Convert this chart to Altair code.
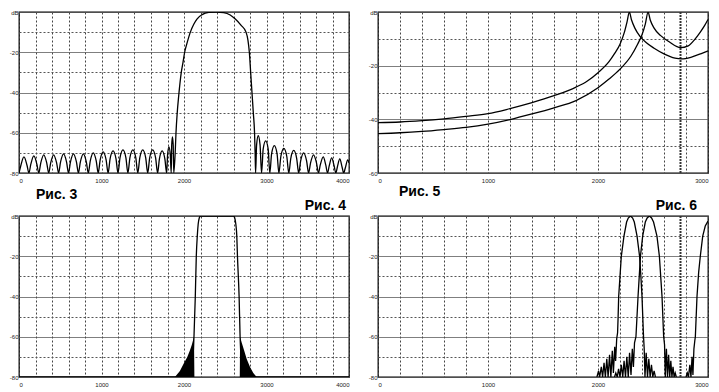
import altair as alt
import pandas as pd

FONT = "Liberation Sans"

# ---------------- Рис. 3 (0..4000 Hz, -80..0 dB) ----------------
fig3_left_lobes = [
    (0, -80), (24, -76), (60, -72), (96, -76),
    (120, -80), (144, -75.5), (180, -71.5), (216, -75.5),
    (240, -80), (264, -75), (300, -71), (336, -75),
    (360, -80), (384, -75), (420, -71), (456, -75),
    (480, -80), (504, -74.5), (540, -70.5), (576, -74.5),
    (600, -80), (624, -74.5), (660, -70.5), (696, -74.5),
    (720, -80), (744, -74.5), (780, -70.5), (816, -74.5),
    (840, -80), (864, -74), (900, -70), (936, -74),
    (960, -80), (984, -73.5), (1020, -69.5), (1056, -73.5),
    (1080, -80), (1104, -73), (1140, -69), (1176, -73),
    (1200, -80), (1224, -72.5), (1260, -68.5), (1296, -72.5),
    (1320, -80), (1344, -72.5), (1380, -68.5), (1416, -72.5),
    (1440, -80), (1464, -72.5), (1500, -68.5), (1536, -72.5),
    (1560, -80), (1584, -72.5), (1620, -68.5), (1656, -72.5),
    (1680, -80), (1702, -73), (1735, -69), (1768, -73),
    (1790, -80), (1801, -71), (1817, -67), (1834, -71),
    (1845, -80), (1851, -66), (1860, -62), (1869, -66),
]
fig3_main = [
    (1876, -80), (1893, -70), (1903, -60), (1918, -50), (1935, -42),
    (1967, -30), (1988, -25), (2008, -20), (2040, -15), (2077, -10),
    (2120, -6), (2157, -3.5), (2220, -1.3), (2300, -0.2), (2390, 0),
    (2480, -0.3), (2560, -1.5), (2622, -3.5), (2690, -6.5), (2752, -10),
    (2775, -14), (2792, -20), (2808, -30), (2824, -40), (2840, -50),
    (2855, -60), (2862, -70), (2868, -80),
]
fig3_right_lobes = [
    (2880, -66), (2900, -61.5), (2922, -66),
    (2940, -80), (2960, -68), (2990, -64), (3020, -68),
    (3040, -80), (3062, -70.4), (3095, -66.4), (3128, -70.4),
    (3150, -80), (3174, -71.8), (3210, -67.8), (3246, -71.8),
    (3270, -80), (3294, -72.8), (3330, -68.8), (3366, -72.8),
    (3390, -80), (3414, -74), (3450, -70), (3486, -74),
    (3510, -80), (3534, -75), (3570, -71), (3606, -75),
    (3630, -80), (3652, -76), (3688, -72), (3718, -76),
    (3740, -80), (3760, -76.5), (3790, -72.5), (3820, -76.5),
    (3840, -80), (3859, -77), (3888, -73), (3916, -77),
    (3935, -80), (3955, -77.5), (3985, -73.5), (4000, -75),
]

# ---------------- Рис. 4 (0..4000 Hz, -80..0 dB) ----------------
fig4_main = [
    (0, -80), (2100, -80), (2110, -70), (2121, -60), (2137, -40),
    (2149, -20), (2161, -10), (2172, -4), (2185, -1), (2200, 0),
    (2400, 0), (2600, 0), (2615, -1), (2628, -4), (2640, -10),
    (2648, -20), (2668, -40), (2680, -60), (2690, -70), (2700, -80),
    (4000, -80),
]
fig4_skirt_left = [
    (1890, -80), (1950, -77), (2000, -73), (2040, -70), (2070, -67),
    (2095, -64), (2121, -60), (2126, -80),
]
fig4_skirt_right = [
    (2676, -80), (2680, -60), (2700, -63), (2730, -67), (2760, -71),
    (2800, -75), (2840, -78), (2880, -80),
]

# ---------------- Рис. 5 (0..3000 Hz, -60..0 dB) ----------------
fig5_a = [
    (0, -41.2), (200, -41), (400, -40.5), (600, -39.8), (800, -38.9),
    (1000, -37.9), (1200, -36), (1400, -33.8), (1600, -31.2), (1800, -28),
    (1900, -25.8), (2000, -22.6), (2100, -18.5), (2150, -15.5), (2200, -12),
    (2240, -7.5), (2265, -3.5), (2285, 0), (2305, -3), (2335, -6),
    (2380, -9), (2440, -11.5), (2510, -13.5), (2600, -15.6), (2700, -17.2),
    (2760, -17.5), (2850, -16.8), (2950, -15.3), (3000, -14.5),
]
fig5_b = [
    (0, -45.3), (200, -45), (400, -44.5), (600, -43.8), (800, -43),
    (1000, -41.8), (1200, -40.1), (1400, -38), (1600, -35.7), (1800, -33),
    (2000, -28.2), (2100, -25), (2200, -21.3), (2300, -16.4), (2360, -12),
    (2400, -8.5), (2430, -4.5), (2455, 0), (2475, -3), (2510, -6),
    (2570, -8.8), (2650, -11.2), (2750, -13.3), (2820, -12.6), (2880, -10.2),
    (2930, -7.5), (2970, -5), (3000, -2.8),
]
fig5_marker = [2750]

# ---------------- Рис. 6 (0..3000 Hz, -80..0 dB) ----------------
fig6_c1 = [
    (1990, -80), (2005, -77), (2015, -80), (2030, -75), (2042, -80),
    (2055, -73), (2067, -80), (2080, -71), (2092, -80), (2105, -69),
    (2117, -80), (2130, -67), (2140, -78), (2152, -65), (2160, -72),
    (2170, -61), (2178, -58), (2183, -50), (2188, -40), (2200, -30),
    (2212, -20), (2236, -10), (2260, -3), (2275, -1), (2295, 0),
    (2315, -1), (2330, -3), (2355, -10), (2378, -20), (2390, -30),
    (2400, -40), (2414, -60), (2420, -66), (2427, -80), (2438, -68),
    (2450, -80), (2462, -71), (2474, -80), (2486, -74), (2498, -80),
    (2510, -77), (2522, -80),
]
fig6_c2 = [
    (2150, -80), (2162, -78), (2175, -80), (2187, -76), (2200, -80),
    (2212, -74), (2225, -80), (2237, -72), (2250, -80), (2262, -70),
    (2275, -80), (2287, -68), (2300, -79), (2312, -66), (2322, -75),
    (2332, -63), (2345, -60), (2364, -40), (2375, -30), (2386, -20),
    (2406, -10), (2430, -3), (2447, -1), (2467, 0), (2487, -1),
    (2505, -3), (2536, -10), (2558, -20), (2570, -30), (2582, -40),
    (2597, -60), (2605, -64), (2612, -80), (2622, -66), (2632, -80),
    (2642, -69), (2652, -80), (2662, -72), (2672, -80), (2682, -75),
    (2692, -80), (2702, -78), (2712, -80),
]
fig6_c3 = [
    (2800, -80), (2812, -78), (2822, -80), (2835, -74), (2845, -80),
    (2855, -70), (2863, -79), (2872, -66), (2880, -62), (2885, -60),
    (2900, -40), (2915, -28), (2930, -20), (2952, -10), (2975, -5),
    (3000, -2.5),
]
fig6_marker = [2750]

x_ticks_4000 = list(range(0, 4001, 200))
x_ticks_3000 = list(range(0, 3001, 200))
y_ticks_80 = list(range(-80, 1, 10))
y_ticks_60 = list(range(-60, 1, 10))

W, H = 330, 161


def to_df(series):
    rows = []
    for name, pts in series:
        for f, d in pts:
            rows.append({"f": f, "db": d, "s": name})
    return pd.DataFrame(rows)


def enc(xmax, xticks, ymin, yticks):
    x = alt.X(
        "f:Q",
        scale=alt.Scale(domain=[0, xmax], nice=False, zero=False),
        axis=alt.Axis(
            values=xticks, format="d",
            labelExpr="datum.value % 1000 == 0 ? datum.label : ''",
            grid=True, gridDash=[2, 2], gridColor="#444", gridWidth=1,
            ticks=False, domain=False, labelFontSize=6, labelPadding=4,
            labelFont=FONT, labelColor="#222", title=None,
        ),
    )
    y = alt.Y(
        "db:Q",
        scale=alt.Scale(domain=[ymin, 0], nice=False, zero=False),
        axis=alt.Axis(
            values=yticks,
            labelExpr="datum.value == 0 ? 'dB' : (datum.value % 20 == 0 ? '-' + abs(datum.value) : '')",
            grid=True,
            gridDash={"condition": {"test": "datum.value % 20 == 0", "value": [1, 0]}, "value": [2, 2]},
            gridColor="#555", gridWidth=1,
            ticks=False, domain=False, labelFontSize=6, labelPadding=1,
            labelFont=FONT, labelColor="#222", title=None,
        ),
    )
    return x, y


def title(text, orient, anchor, dx, offset):
    return alt.TitleParams(
        text, orient=orient, anchor=anchor, frame="group", dx=dx,
        offset=offset, fontSize=14, fontWeight="bold", font=FONT, color="black",
    )


def lines(df, x, y, interp="monotone"):
    return alt.Chart(df).mark_line(
        color="black", strokeWidth=1.3, interpolate=interp, clip=True
    ).encode(x=x, y=y, detail="s:N")


# Рис. 3
x3, y3 = enc(4000, x_ticks_4000, -80, y_ticks_80)
df3 = to_df([("l", fig3_left_lobes + fig3_main + fig3_right_lobes)])
p3 = lines(df3, x3, y3).properties(
    width=W, height=H, title=title("Рис. 3", "bottom", "start", 17, 5)
)

# Рис. 5
x5, y5 = enc(3000, x_ticks_3000, -60, y_ticks_60)
df5 = to_df([("a", fig5_a), ("b", fig5_b)])
rule5 = alt.Chart(pd.DataFrame({"f": fig5_marker})).mark_rule(
    color="#333", strokeWidth=2, strokeDash=[2, 1]
).encode(x=x5)
p5 = alt.layer(rule5, lines(df5, x5, y5)).properties(
    width=W, height=H, title=title("Рис. 5", "bottom", "start", 21, 2)
)

# Рис. 4
x4, y4 = enc(4000, x_ticks_4000, -80, y_ticks_80)
df4 = to_df([("m", fig4_main)])
df4s = to_df([("l", fig4_skirt_left), ("r", fig4_skirt_right)])
skirt = alt.Chart(df4s).mark_area(
    color="black", opacity=1, interpolate="linear", clip=True
).encode(x=x4, y=y4, y2=alt.datum(-80), detail="s:N")
p4 = alt.layer(skirt, lines(df4, x4, y4, "monotone")).properties(
    width=W, height=H, title=title("Рис. 4", "top", "end", -3, 0)
)

# Рис. 6
x6, y6 = enc(3000, x_ticks_3000, -80, y_ticks_80)
df6 = to_df([("c1", fig6_c1), ("c2", fig6_c2), ("c3", fig6_c3)])
rule6 = alt.Chart(pd.DataFrame({"f": fig6_marker})).mark_rule(
    color="#333", strokeWidth=2, strokeDash=[2, 1]
).encode(x=x6)
p6 = alt.layer(rule6, lines(df6, x6, y6, "linear")).properties(
    width=W, height=H, title=title("Рис. 6", "top", "end", -11, 0)
)

chart = (
    alt.concat(p3, p5, p4, p6, columns=2, spacing={"row": 43, "column": 29}, bounds="flush")
    .properties(padding=0)
    .configure_view(stroke="black", strokeWidth=1.3)
)

chart.save("out.html", embed_options={"renderer": "svg", "actions": False})
